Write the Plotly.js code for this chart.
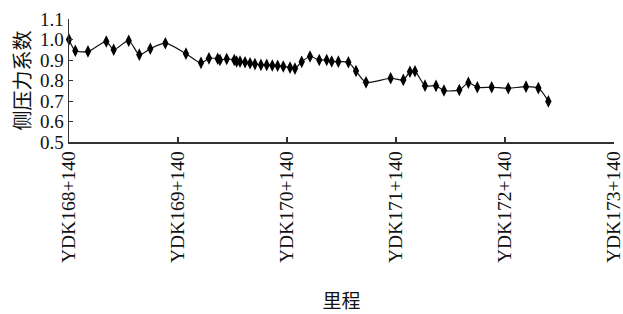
<!DOCTYPE html>
<html>
<head>
<meta charset="utf-8">
<script src="https://cdn.plot.ly/plotly-3.0.1.min.js"></script>
<style>html,body{margin:0;padding:0;background:#fff;}#chart{width:623px;height:314px;}</style>
</head>
<body>
<div id="chart"></div>
<script>
// chainage offset (km) from YDK168+140
const chainage = [0.000,0.058,0.174,0.342,0.410,0.548,0.645,0.746,0.884,1.073,
  1.211,1.284,1.364,1.385,1.447,1.516,1.538,1.569,1.615,1.661,1.706,1.761,1.814,1.865,1.914,1.966,2.028,2.073,
  2.135,2.211,2.296,2.364,2.410,2.471,2.563,2.633,2.725,2.951,3.067,3.128,3.174,
  3.266,3.367,3.440,3.581,3.664,3.746,3.878,4.030,4.193,4.306,4.398];
const coeff = [1.000,0.945,0.942,0.990,0.950,0.994,0.926,0.955,0.982,0.931,
  0.886,0.908,0.906,0.900,0.905,0.900,0.893,0.892,0.889,0.884,0.880,0.876,0.876,0.873,0.872,0.868,0.863,0.858,
  0.891,0.917,0.900,0.900,0.893,0.892,0.889,0.846,0.791,0.811,0.803,0.843,0.845,
  0.775,0.774,0.751,0.754,0.789,0.767,0.767,0.762,0.770,0.763,0.698];
const tickVals = [0,1,2,3,4,5];
const tickLabels = ["YDK168+140","YDK169+140","YDK170+140","YDK171+140","YDK172+140","YDK173+140"];
const yTicks = [0.5,0.6,0.7,0.8,0.9,1.0,1.1];
const yTickLabels = ["0.5","0.6","0.7","0.8","0.9","1.0","1.1"];

const trace = {
  x: chainage, y: coeff, type: 'scatter', mode: 'lines+markers',
  line: {color: '#111', width: 1.2, shape: 'spline', smoothing: 0.7},
  marker: {symbol: 'diamond-tall', size: 9, color: '#000'},
  cliponaxis: false
};
const serif = '"Liberation Serif", "Times New Roman", serif';
const cjk = '"Noto Sans CJK SC", sans-serif';
const layout = {
  width: 623, height: 314,
  margin: {l: 69, r: 9, t: 19, b: 172},
  paper_bgcolor: '#fff', plot_bgcolor: '#fff',
  showlegend: false,
  xaxis: {
    range: [0, 5], tickvals: tickVals, ticktext: tickLabels, tickangle: -90,
    ticklabeloverflow: 'allow',
    ticks: 'inside', ticklen: 5, tickcolor: '#333', tickwidth: 1.5,
    showline: true, linecolor: '#333', linewidth: 1.5, showgrid: false, zeroline: false,
    tickfont: {family: serif, size: 19.5, color: '#111'},
    title: {text: '里程', font: {family: cjk, size: 19, color: '#111'}, standoff: 32}
  },
  yaxis: {
    range: [0.5, 1.1], tickvals: yTicks, ticktext: yTickLabels,
    ticklabeloverflow: 'allow',
    ticks: 'inside', ticklen: 4, tickcolor: '#333', tickwidth: 1,
    showline: true, linecolor: '#333', linewidth: 1.5, showgrid: false, zeroline: false,
    tickfont: {family: serif, size: 19, color: '#111'},
    title: {text: '侧压力系数', font: {family: cjk, size: 20, color: '#111'}, standoff: 4}
  }
};
Plotly.newPlot('chart', [trace], layout, {staticPlot: true, displayModeBar: false});
</script>
</body>
</html>
